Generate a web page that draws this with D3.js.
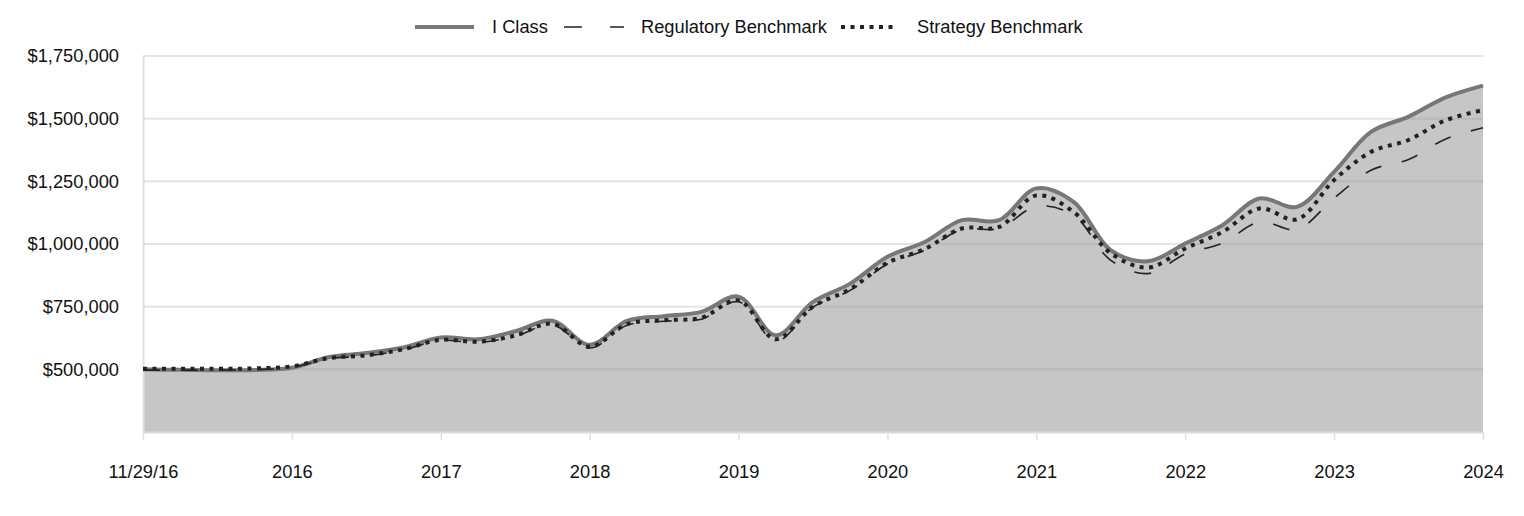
<!DOCTYPE html>
<html>
<head>
<meta charset="utf-8">
<script src="https://cdn.jsdelivr.net/npm/d3@7"></script>
<style>
  html, body { margin: 0; padding: 0; background: #fff; }
  svg { display: block; font-family: "Liberation Sans", Arial, sans-serif; }
</style>
</head>
<body>
<svg id="chart" width="1524" height="516"></svg>
<script>
// ---- data (quarterly observations) ----
const tickLabels = ["11/29/16", "2016", "2017", "2018", "2019", "2020", "2021", "2022", "2023", "2024"];
const yTicks = [500000, 750000, 1000000, 1250000, 1500000, 1750000];
const seriesNames = ["I Class", "Regulatory Benchmark", "Strategy Benchmark"];
const iClass = [500000,498000,496000,497000,506000,549000,565000,587000,627000,620000,652000,694000,598000,693000,712000,729000,790000,636000,769000,842000,949000,1008000,1095000,1095000,1222000,1168000,975000,931000,1002000,1075000,1182000,1148000,1288000,1448000,1508000,1585000,1632000];
const regulatory = [497000,497000,497000,499000,508000,543000,553000,578000,615000,607000,632000,678000,585000,676000,692000,700000,770000,612000,748000,815000,920000,975000,1058000,1062000,1150000,1115000,935000,882000,960000,1003000,1088000,1058000,1183000,1295000,1337000,1419000,1464000];
const strategy = [502000,502000,502000,504000,512000,545000,556000,580000,618000,610000,635000,682000,590000,680000,696000,706000,775000,620000,750000,820000,925000,980000,1062000,1068000,1194000,1128000,963000,906000,982000,1048000,1142000,1098000,1255000,1368000,1415000,1494000,1534000];

(function () {
const svg = d3.select("#chart");
const mLeft = 143, mRight = 1483, mTop = 56, mBottom = 432;
const n = iClass.length;
const x = d3.scaleLinear().domain([0, n - 1]).range([mLeft, mRight]);
const y = d3.scaleLinear().domain([250000, 1750000]).range([mBottom, mTop]);
const perTick = (n - 1) / (tickLabels.length - 1);
const fs = 18.3;

const curve = d3.curveCatmullRom.alpha(0.5);
const lineGen = d3.line().x((d, i) => x(i)).y(d => y(d)).curve(curve);
const areaGen = d3.area().x((d, i) => x(i)).y0(y(250000)).y1(d => y(d)).curve(curve);

// grid (under area)
svg.append("g").selectAll("line").data(yTicks).join("line")
  .attr("x1", mLeft).attr("x2", mRight)
  .attr("y1", d => y(d)).attr("y2", d => y(d))
  .attr("stroke", "#e4e4e4").attr("stroke-width", 2);

// area
svg.append("clipPath").attr("id", "areaClip")
  .append("path").attr("d", areaGen(iClass));
svg.append("path").attr("d", areaGen(iClass)).attr("fill", "#c6c6c6");

// grid inside area
svg.append("g").attr("clip-path", "url(#areaClip)")
  .selectAll("line").data(yTicks).join("line")
  .attr("x1", mLeft).attr("x2", mRight)
  .attr("y1", d => y(d)).attr("y2", d => y(d))
  .attr("stroke", "#b9b9b9").attr("stroke-width", 2);

// axes
const xAxis = d3.axisBottom(x)
  .tickValues(d3.range(tickLabels.length).map(i => i * perTick))
  .tickFormat((d, i) => tickLabels[i])
  .tickSizeInner(8).tickSizeOuter(0).tickPadding(25);
const gx = svg.append("g").attr("transform", `translate(0,${mBottom})`).call(xAxis);
gx.select(".domain").attr("stroke", "#d9d9d9").attr("stroke-width", 2);
gx.selectAll(".tick line").attr("stroke", "#e0e0e0").attr("stroke-width", 1.5);
gx.selectAll("text").attr("font-size", fs).attr("fill", "#111").attr("font-family", "Liberation Sans, Arial, sans-serif");

const yAxis = d3.axisLeft(y).tickValues(yTicks)
  .tickFormat(d => "$" + d3.format(",")(d))
  .tickSize(0).tickPadding(24);
const gy = svg.append("g").attr("transform", `translate(${mLeft},0)`).call(yAxis);
gy.select(".domain").attr("stroke", "#e0e0e0").attr("stroke-width", 2);
gy.selectAll("text").attr("font-size", fs).attr("fill", "#111").attr("font-family", "Liberation Sans, Arial, sans-serif");

// lines
svg.append("path").attr("d", lineGen(iClass)).attr("fill", "none")
  .attr("stroke", "#777").attr("stroke-width", 4).attr("stroke-linejoin", "round");
svg.append("path").attr("d", lineGen(regulatory)).attr("fill", "none")
  .attr("stroke", "#222").attr("stroke-width", 1.6).attr("stroke-dasharray", "17,21");
svg.append("path").attr("d", lineGen(strategy)).attr("fill", "none")
  .attr("stroke", "#222").attr("stroke-width", 4).attr("stroke-dasharray", "4,5.5");

// legend
const lg = svg.append("g").attr("font-size", fs).attr("fill", "#111");
const ly = 27;
lg.append("line").attr("x1", 415).attr("x2", 474).attr("y1", ly).attr("y2", ly)
  .attr("stroke", "#777").attr("stroke-width", 4);
lg.append("text").attr("x", 492).attr("y", ly).attr("dy", "0.35em").text(seriesNames[0]);
lg.append("line").attr("x1", 564).attr("x2", 624).attr("y1", ly).attr("y2", ly)
  .attr("stroke", "#222").attr("stroke-width", 1.6).attr("stroke-dasharray", "18,28");
lg.append("text").attr("x", 641).attr("y", ly).attr("dy", "0.35em").text(seriesNames[1]);
lg.append("line").attr("x1", 841).attr("x2", 893).attr("y1", ly).attr("y2", ly)
  .attr("stroke", "#222").attr("stroke-width", 4).attr("stroke-dasharray", "4,5.5");
lg.append("text").attr("x", 917).attr("y", ly).attr("dy", "0.35em").text(seriesNames[2]);
})();
</script>
</body>
</html>
